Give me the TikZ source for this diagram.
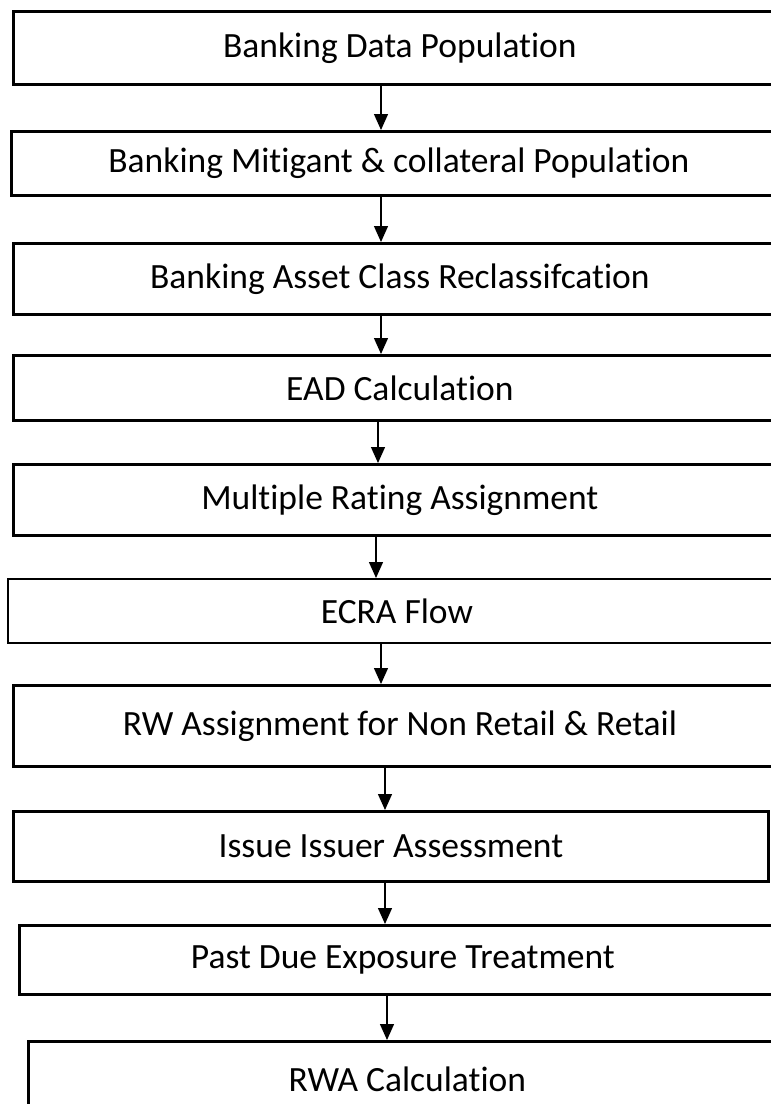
\documentclass[tikz,border=0pt]{standalone}
\usepackage{fontspec}
\setmainfont{Carlito}[Ligatures=NoCommon]
\usetikzlibrary{arrows.meta, positioning}

\begin{document}
\begin{tikzpicture}[x=1pt, y=-1pt,
    box/.style={draw=black, line width=2.8pt, fill=white, anchor=north west, align=center, inner sep=0pt, font=\fontsize{35.5}{42}\selectfont},
    arr/.style={-{Triangle[width=14pt, length=16pt]}, line width=1.3pt}
  ]
  \clip (0,0) rectangle (771,1104);

  % Process steps (right edges run past the page)
  \node[box, minimum width=773pt, minimum height=73pt] (data) at (12,10) {Banking Data Population};
  \node[box, minimum width=775pt, minimum height=64pt] (mitig) at (10,130) {Banking Mitigant \& collateral Population};
  \node[box, minimum width=773pt, minimum height=71pt] (asset) at (12,242) {Banking Asset Class Reclassifcation};
  \node[box, minimum width=773pt, minimum height=65pt] (ead) at (12,354) {EAD Calculation};
  \node[box, minimum width=773pt, minimum height=71pt] (rating) at (12,463) {Multiple Rating Assignment};
  \node[box, line width=1.8pt, minimum width=778pt, minimum height=64pt] (ecra) at (7,578) {ECRA Flow};
  \node[box, minimum width=773pt, minimum height=81pt] (rw) at (12,684) {RW Assignment for Non Retail \& Retail};
  \node[box, minimum width=755pt, minimum height=70pt] (issuer) at (12,810) {Issue Issuer Assessment};
  \node[box, minimum width=767pt, minimum height=69pt] (pastdue) at (18,924) {Past Due Exposure Treatment};
  \node[box, minimum width=758pt, minimum height=76pt] (rwa) at (27,1040) {RWA Calculation};

  % Connectors
  \foreach \a/\b/\x in {data/mitig/381, mitig/asset/381, asset/ead/381, ead/rating/378,
                        rating/ecra/376, ecra/rw/381, rw/issuer/385, issuer/pastdue/385, pastdue/rwa/387}
    \draw[arr] (\a.south -| \x,0) -- (\b.north -| \x,0);
\end{tikzpicture}
\end{document}
